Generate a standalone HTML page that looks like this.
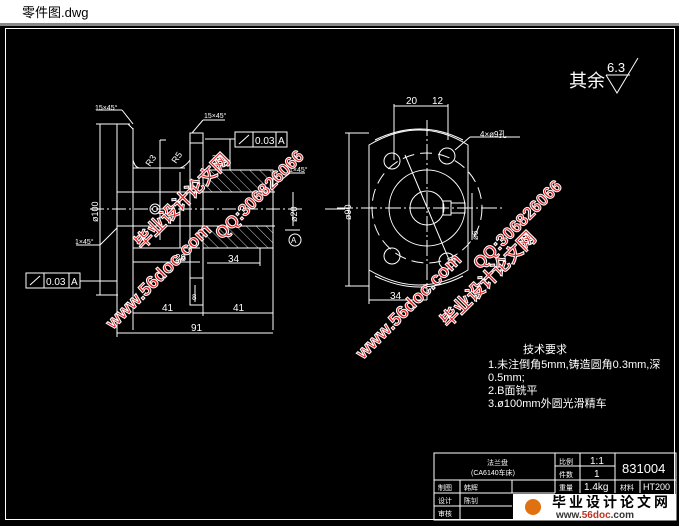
<!DOCTYPE html>
<html><head><meta charset="utf-8"><style>
html,body{margin:0;padding:0;width:679px;height:526px;overflow:hidden;background:#fff}
svg{display:block}
text{font-family:"Liberation Sans","Noto Sans CJK SC",sans-serif}
</style></head><body>
<svg width="679" height="526" viewBox="0 0 679 526" xmlns="http://www.w3.org/2000/svg">
<defs>
<pattern id="h" width="7" height="7" patternUnits="userSpaceOnUse" patternTransform="rotate(-45)">
<line x1="0" y1="0" x2="0" y2="7" stroke="#fff" stroke-width="0.8"/></pattern>
</defs>
<rect x="0" y="0" width="679" height="24" fill="#fff"/>
<text x="22" y="17" font-size="13" fill="#000">零件图.dwg</text>
<rect x="0" y="23" width="679" height="3" fill="#888"/>
<rect x="0" y="26" width="679" height="500" fill="#000"/>
<rect x="5.5" y="28.5" width="669" height="491" fill="none" stroke="#fff" stroke-width="1"/>

<g stroke="#fff" stroke-width="1" fill="none">
<!-- LEFT VIEW -->
<line x1="100" y1="124" x2="100" y2="295"/>
<line x1="96" y1="124" x2="130" y2="124"/>
<line x1="96" y1="295" x2="118" y2="295"/>
<line x1="117" y1="124" x2="117" y2="300"/>
<line x1="133" y1="128" x2="133" y2="330"/>
<polyline points="117,124 128,124 133,129"/>
<line x1="90" y1="209" x2="305" y2="209" stroke-dasharray="14,3,2,3"/>
<line x1="325" y1="209" x2="345" y2="209"/>
<line x1="117" y1="192" x2="275" y2="192"/>
<line x1="117" y1="226" x2="275" y2="226"/>
<line x1="133" y1="168" x2="185" y2="168"/>
<line x1="133" y1="248" x2="200" y2="248"/>
<path d="M133,160 Q135,168 140,168"/>
<path d="M180,168 Q186,166 190,160"/>
<rect x="190" y="133" width="13" height="172"/>
<line x1="190" y1="143" x2="203" y2="143"/>
<line x1="190" y1="278" x2="203" y2="278"/>
<rect x="203" y="170" width="70" height="22" fill="url(#h)"/>
<rect x="203" y="226" width="70" height="22" fill="url(#h)"/>
<line x1="203" y1="170" x2="273" y2="170"/>
<line x1="203" y1="248" x2="273" y2="248"/>
<line x1="273" y1="170" x2="273" y2="330"/>
<line x1="160" y1="140" x2="160" y2="240"/>
<line x1="160" y1="140" x2="166" y2="140"/>
<circle cx="155" cy="209" r="5"/><circle cx="155" cy="209" r="2.5"/>
<line x1="180" y1="172" x2="180" y2="248"/>
<line x1="133" y1="262" x2="200" y2="262"/>
<line x1="207" y1="263" x2="260" y2="263"/>
<line x1="260" y1="248" x2="260" y2="266"/>
<line x1="133" y1="313" x2="273" y2="313"/>
<line x1="117" y1="333" x2="273" y2="333"/>
<line x1="117" y1="300" x2="117" y2="337"/>
<line x1="203" y1="300" x2="203" y2="316"/>
<line x1="195" y1="285" x2="195" y2="302"/>
<line x1="293" y1="192" x2="293" y2="226"/>
<line x1="285" y1="230" x2="300" y2="230"/>
<circle cx="295" cy="240" r="6"/>
<line x1="100" y1="245" x2="117" y2="228"/>
<line x1="76" y1="245" x2="100" y2="245"/>
<line x1="275" y1="185" x2="290" y2="173"/>
<line x1="290" y1="173" x2="305" y2="173"/>
<line x1="96" y1="110" x2="122" y2="110"/>
<line x1="122" y1="110" x2="133" y2="124"/>
<line x1="203" y1="120" x2="225" y2="120"/>
<line x1="203" y1="120" x2="192" y2="133"/>
<rect x="235" y="132" width="52" height="15"/>
<line x1="253" y1="132" x2="253" y2="147"/><line x1="276" y1="132" x2="276" y2="147"/>
<line x1="239" y1="144" x2="249" y2="135"/>
<line x1="205" y1="139" x2="235" y2="139"/>
<line x1="230" y1="139" x2="230" y2="170"/>
<rect x="26" y="273" width="54" height="15"/>
<line x1="44" y1="273" x2="44" y2="288"/><line x1="69" y1="273" x2="69" y2="288"/>
<line x1="30" y1="285" x2="40" y2="276"/>
<line x1="80" y1="281" x2="117" y2="281"/>

<!-- RIGHT VIEW -->
<path d="M369,145 Q420,115 468,145 L468,270 Q420,300 369,270 Z"/>
<path d="M375,140 Q420,118 463,140"/>
<path d="M375,276 Q420,298 463,276"/>
<circle cx="427" cy="208" r="38"/>
<circle cx="427" cy="208" r="17"/>
<circle cx="427" cy="208" r="55" stroke-dasharray="12,6"/>
<circle cx="392" cy="161" r="8"/><circle cx="447" cy="156" r="8"/>
<circle cx="392" cy="256" r="8"/><circle cx="447" cy="261" r="8"/>
<line x1="337" y1="208" x2="505" y2="208" stroke-dasharray="16,3,2,3"/>
<line x1="427" y1="120" x2="427" y2="300" stroke-dasharray="16,3,2,3"/>
<rect x="443" y="201" width="8" height="14"/>
<rect x="451" y="203" width="14" height="10"/>
<line x1="405" y1="155" x2="450" y2="262"/>
<line x1="349" y1="133" x2="349" y2="286"/>
<line x1="345" y1="133" x2="369" y2="133"/><line x1="345" y1="286" x2="369" y2="286"/>
<line x1="394" y1="104" x2="394" y2="160"/><line x1="448" y1="104" x2="448" y2="140"/>
<line x1="394" y1="106" x2="448" y2="106"/>
<line x1="369" y1="270" x2="369" y2="304"/>
<line x1="369" y1="300" x2="427" y2="300"/>
<line x1="472" y1="193" x2="472" y2="240"/>
<line x1="470" y1="137" x2="520" y2="137"/>
<line x1="455" y1="150" x2="470" y2="137"/>
<!-- roughness -->
<polyline points="606,75 617,93 638,58"/>
<line x1="606" y1="75" x2="630" y2="75"/>

<!-- TITLE BLOCK -->
<rect x="434" y="453" width="242" height="67"/>
<line x1="434" y1="480" x2="555" y2="480"/>
<line x1="434" y1="493" x2="555" y2="493"/>
<line x1="434" y1="506" x2="512" y2="506"/>
<line x1="555" y1="466" x2="615" y2="466"/>
<line x1="555" y1="480" x2="676" y2="480"/>
<line x1="460" y1="480" x2="460" y2="520"/>
<line x1="512" y1="480" x2="512" y2="493"/>
<line x1="555" y1="453" x2="555" y2="493"/>
<line x1="580" y1="453" x2="580" y2="493"/>
<line x1="615" y1="453" x2="615" y2="493"/>
<line x1="640" y1="480" x2="640" y2="493"/>
</g>

<g fill="#fff" font-size="10">
<text x="95" y="110" font-size="7">15×45°</text>
<text x="204" y="118" font-size="7">15×45°</text>
<text x="75" y="244" font-size="7">1×45°</text>
<text x="289" y="172" font-size="7">1×45°</text>
<text x="255" y="144" font-size="10">0.03</text><text x="278" y="144">A</text>
<text x="46" y="285" font-size="10">0.03</text><text x="71" y="285">A</text>
<text x="175" y="261">28</text>
<text x="228" y="262">34</text>
<text x="162" y="311">41</text>
<text x="233" y="311">41</text>
<text x="191" y="331">91</text>
<text x="192" y="300" font-size="8">8</text>
<text x="212" y="160" font-size="7">3×2</text>
<text x="291" y="243" font-size="8">A</text>
<text transform="translate(98,222) rotate(-90)" font-size="9">ø100</text>
<text transform="translate(297,222) rotate(-90)" font-size="9">ø20</text>
<text transform="translate(150,167) rotate(-55)" font-size="9">R3</text>
<text transform="translate(176,164) rotate(-55)" font-size="9">R5</text>
<text x="406" y="104">20</text><text x="432" y="104">12</text>
<text x="390" y="299">34</text>
<text x="480" y="137" font-size="8">4×ø9孔</text>
<text transform="translate(351,220) rotate(-90)" font-size="9">ø90</text>
<text transform="translate(478,240) rotate(-90)" font-size="8">ø6</text>
<text x="569" y="87" font-size="18">其余</text>
<text x="607" y="72" font-size="13">6.3</text>
<text x="523" y="353" font-size="11">技术要求</text>
<text x="488" y="368" font-size="11">1.未注倒角5mm,铸造圆角0.3mm,深</text>
<text x="488" y="381" font-size="11">0.5mm;</text>
<text x="488" y="394" font-size="11">2.B面铣平</text>
<text x="488" y="407" font-size="11">3.ø100mm外圆光滑精车</text>
<text x="487" y="465" font-size="7">法兰盘</text>
<text x="471" y="475" font-size="7">(CA6140车床)</text>
<text x="559" y="464" font-size="7">比例</text><text x="590" y="464">1:1</text>
<text x="559" y="477" font-size="7">件数</text><text x="594" y="477">1</text>
<text x="559" y="490" font-size="7">重量</text><text x="584" y="490">1.4kg</text>
<text x="620" y="490" font-size="7">材料</text><text x="643" y="490" font-size="9">HT200</text>
<text x="622" y="473" font-size="13">831004</text>
<text x="438" y="490" font-size="7">制图</text><text x="464" y="490" font-size="7">韩辉</text>
<text x="438" y="503" font-size="7">设计</text><text x="464" y="503" font-size="7">陈钊</text>
<text x="438" y="516" font-size="7">审核</text>
</g>
<rect x="513" y="494" width="163" height="26" fill="#fff"/>
<circle cx="533" cy="507" r="8" fill="#e07010"/>
<text x="552" y="507" font-size="14" font-weight="bold" fill="#000" letter-spacing="3" font-family="Noto Sans CJK SC,sans-serif">毕业设计论文网</text>
<text x="556" y="518" font-size="10" font-weight="bold" fill="#333">www.<tspan fill="#c03020">56doc</tspan>.com</text>

<g font-weight="bold" fill="#e02020" stroke="#fff" stroke-width="1" font-family="Liberation Sans,Noto Sans CJK SC,sans-serif">
<text transform="translate(113,330) rotate(-45)" font-size="18">www.56doc.com</text>
<text transform="translate(142,250) rotate(-45)" font-size="18">毕业设计论文网</text>
<text transform="translate(222,240) rotate(-45)" font-size="17">QQ:306826066</text>
<text transform="translate(363,360) rotate(-45)" font-size="18">www.56doc.com</text>
<text transform="translate(448,328) rotate(-45)" font-size="18">毕业设计论文网</text>
<text transform="translate(480,270) rotate(-45)" font-size="17">QQ:306826066</text>
</g>
</svg>
</body></html>
